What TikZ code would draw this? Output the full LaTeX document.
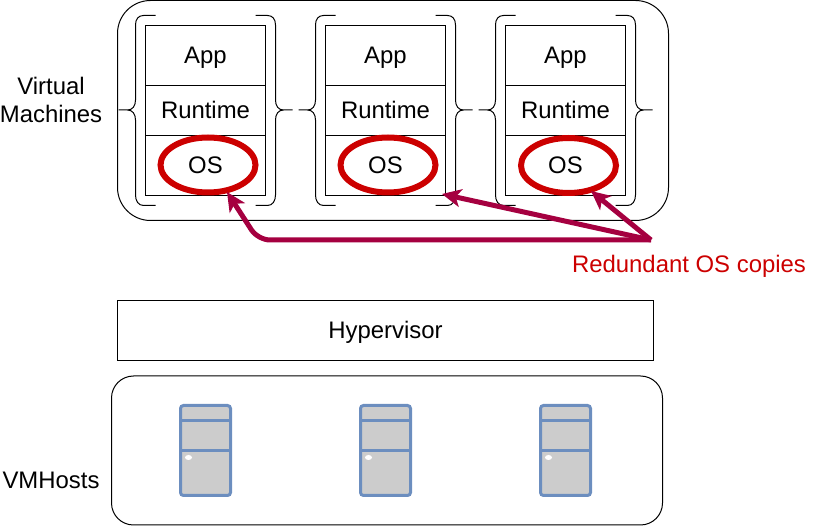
\documentclass[tikz,border=0pt]{standalone}
\usepackage{fontspec}
\setmainfont{Liberation Sans}
\usetikzlibrary{arrows.meta,shapes.geometric}
\definecolor{arrowred}{HTML}{A50040}
\definecolor{osred}{HTML}{CC0000}
\definecolor{srvblue}{HTML}{6C8EBF}
\definecolor{srvgray}{HTML}{CCCCCC}
\tikzset{
  every node/.style={font=\fontsize{23.9}{28}\selectfont,inner sep=0pt,outer sep=0pt},
  lbl/.style={text height=18pt,text depth=2pt},
  frame/.style={draw=black,line width=1pt,rounded corners=#1},
  layer/.style={lbl,draw=black,line width=1pt,minimum width=120pt,anchor=north west},
  osring/.style={ellipse,draw=osred,line width=6pt,minimum width=95pt,minimum height=55pt},
  bracepath/.style={draw=black,line width=1pt},
  redarrow/.style={draw=arrowred,line width=5pt,-{Stealth[length=19pt,width=18pt,inset=5pt]}},
  srvbody/.style={draw=srvblue,fill=srvgray,line width=3pt,rounded corners=3pt},
  srvline/.style={draw=srvblue,line width=3pt},
}
\begin{document}
\begin{tikzpicture}[x=1pt,y=-1pt]
\useasboundingbox (0,0) rectangle (831,526);
% outer frames
\node[frame=33pt,minimum width=551pt,minimum height=220pt,anchor=north west] (vmframe) at (117.5,0.5) {};
\node[lbl,draw=black,line width=1pt,minimum width=536pt,minimum height=60pt,anchor=north west] (hyper) at (117.5,300.5) {Hypervisor};
\node[frame=22pt,minimum width=551pt,minimum height=149pt,anchor=north west] (hostframe) at (111.5,376) {};
% labels
\node[align=center,font=\fontsize{23.9}{28}\selectfont] (vmlabel) at (51,100) {Virtual\\Machines};
\node[lbl] (hostlabel) at (51,481) {VMHosts};
\node[lbl,text=osred] (redlabel) at (689,265) {Redundant OS copies};
% VM stacks
\foreach \n/\x in {a/145.5,b/325.5,c/505.5}{
  \node[layer,minimum height=60pt] (app\n) at (\x,25.5) {App};
  \node[layer,minimum height=50pt] (run\n) at (\x,85.5) {Runtime};
  \node[layer,minimum height=60pt] (os\n) at (\x,135.5) {OS};
  % left brace
  \draw[bracepath] (\x+10,15.5) -- (\x-2,15.5) .. controls (\x-7,15.5) and (\x-10,19) .. (\x-10,25)
    -- (\x-10,100) .. controls (\x-10,106) and (\x-13,110) .. (\x-18,110) -- (\x-27,110)
    (\x-18,110) .. controls (\x-13,110) and (\x-10,114) .. (\x-10,120)
    -- (\x-10,195) .. controls (\x-10,201) and (\x-7,205.5) .. (\x-2,205.5) -- (\x+10,205.5);
  % right brace
  \draw[bracepath] (\x+110,15.5) -- (\x+122,15.5) .. controls (\x+127,15.5) and (\x+130,19) .. (\x+130,25)
    -- (\x+130,100) .. controls (\x+130,106) and (\x+133,110) .. (\x+138,110) -- (\x+147,110)
    (\x+138,110) .. controls (\x+133,110) and (\x+130,114) .. (\x+130,120)
    -- (\x+130,195) .. controls (\x+130,201) and (\x+127,205.5) .. (\x+122,205.5) -- (\x+110,205.5);
}
% OS rings
\node[osring] (ringa) at (208,165) {};
\node[osring] (ringb) at (388,165) {};
\node[osring] (ringc) at (568.5,165.5) {};
% server icons
\foreach \n/\x in {a/180.5,b/360.5,c/540.5}{
  \node[srvbody,minimum width=50pt,minimum height=90pt,anchor=north west] (srv\n) at (\x,405.5) {};
  \draw[srvline] (srv\n.west |- 0,420.5) -- (srv\n.east |- 0,420.5);
  \draw[srvline] (srv\n.west |- 0,450.5) -- (srv\n.east |- 0,450.5);
  \node[ellipse,fill=white,minimum width=7pt,minimum height=5pt] (dot\n) at (\x+8,457.5) {};
}
% arrows
\coordinate (src) at (651,240);
\coordinate (elbow) at (258,240);
\coordinate (tipa) at (227,192);
\coordinate (tipb) at (442,194);
\coordinate (tipc) at (591,191);
\draw[redarrow,rounded corners=12pt] (src) -- (elbow) -- (tipa);
\draw[redarrow] (src) -- (tipb);
\draw[redarrow] (src) -- (tipc);
\end{tikzpicture}
\end{document}
